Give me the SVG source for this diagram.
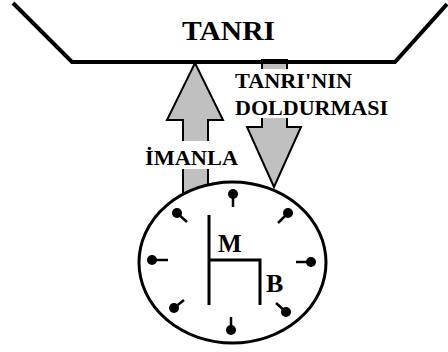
<svg xmlns="http://www.w3.org/2000/svg" width="448" height="352" viewBox="0 0 448 352">
<style>
.t{font-family:"Liberation Serif","Times New Roman",serif;font-weight:bold;fill:#000}
.arrow{fill:#c0c0c0;stroke:#000;stroke-width:2;stroke-linejoin:miter}
.ln{fill:none;stroke:#000;stroke-width:3}
.tick{stroke:#000;stroke-width:2.5;fill:none}
.dot{fill:#000}
</style>
<rect width="448" height="352" fill="#fff"/>
<g id="connectors">
<polygon id="imanla-arrow" class="arrow" points="183,197 183,120 167,120 195,63 223,120 208,120 208,197"/>
<polygon id="doldurma-arrow" class="arrow" points="262,60 262,127 247,127 274,187 301,127 287,127 287,60"/>
</g>
<g id="tanri">
<polyline points="13,3 72,62 395,62 447,4" fill="none" stroke="#000" stroke-width="4"/>
<text class="t" x="182" y="40" font-size="28" textLength="93" lengthAdjust="spacingAndGlyphs">TANRI</text>
</g>
<g id="label-doldurma">
<rect x="232" y="69" width="158" height="49" fill="#fff"/>
<text class="t" x="235" y="88" font-size="20" textLength="117" lengthAdjust="spacingAndGlyphs">TANRI'NIN</text>
<text class="t" x="235" y="115" font-size="20" textLength="153" lengthAdjust="spacingAndGlyphs">DOLDURMASI</text>
</g>
<g id="label-imanla">
<rect x="143" y="141" width="97" height="28" fill="#fff"/>
<text class="t" x="145" y="165" font-size="21" textLength="93" lengthAdjust="spacingAndGlyphs">İMANLA</text>
</g>
<g id="clock">
<ellipse cx="232.5" cy="262.5" rx="93.5" ry="80.5" fill="#fff" stroke="#000" stroke-width="3"/>
<line class="tick" x1="233" y1="194" x2="233" y2="207"/>
<circle class="dot" cx="233" cy="194" r="5"/>
<line class="tick" x1="288" y1="213" x2="278" y2="223"/>
<circle class="dot" cx="288" cy="213" r="5"/>
<line class="tick" x1="311" y1="262" x2="296" y2="262"/>
<circle class="dot" cx="311" cy="262" r="5"/>
<line class="tick" x1="286" y1="312" x2="276" y2="303"/>
<circle class="dot" cx="286" cy="312" r="5"/>
<line class="tick" x1="231" y1="330" x2="231" y2="317"/>
<circle class="dot" cx="231" cy="330" r="5"/>
<line class="tick" x1="174" y1="308" x2="184" y2="300"/>
<circle class="dot" cx="174" cy="308" r="5"/>
<line class="tick" x1="152" y1="260" x2="168" y2="260"/>
<circle class="dot" cx="152" cy="260" r="5"/>
<line class="tick" x1="177" y1="213" x2="187" y2="222"/>
<circle class="dot" cx="177" cy="213" r="5"/>
<polyline class="ln" points="209,215 209,305"/>
<polyline class="ln" points="209,260 260,260 260,305"/>
<text class="t" x="218" y="252" font-size="25">M</text>
<text class="t" x="266" y="292" font-size="26">B</text>
</g>
</svg>
